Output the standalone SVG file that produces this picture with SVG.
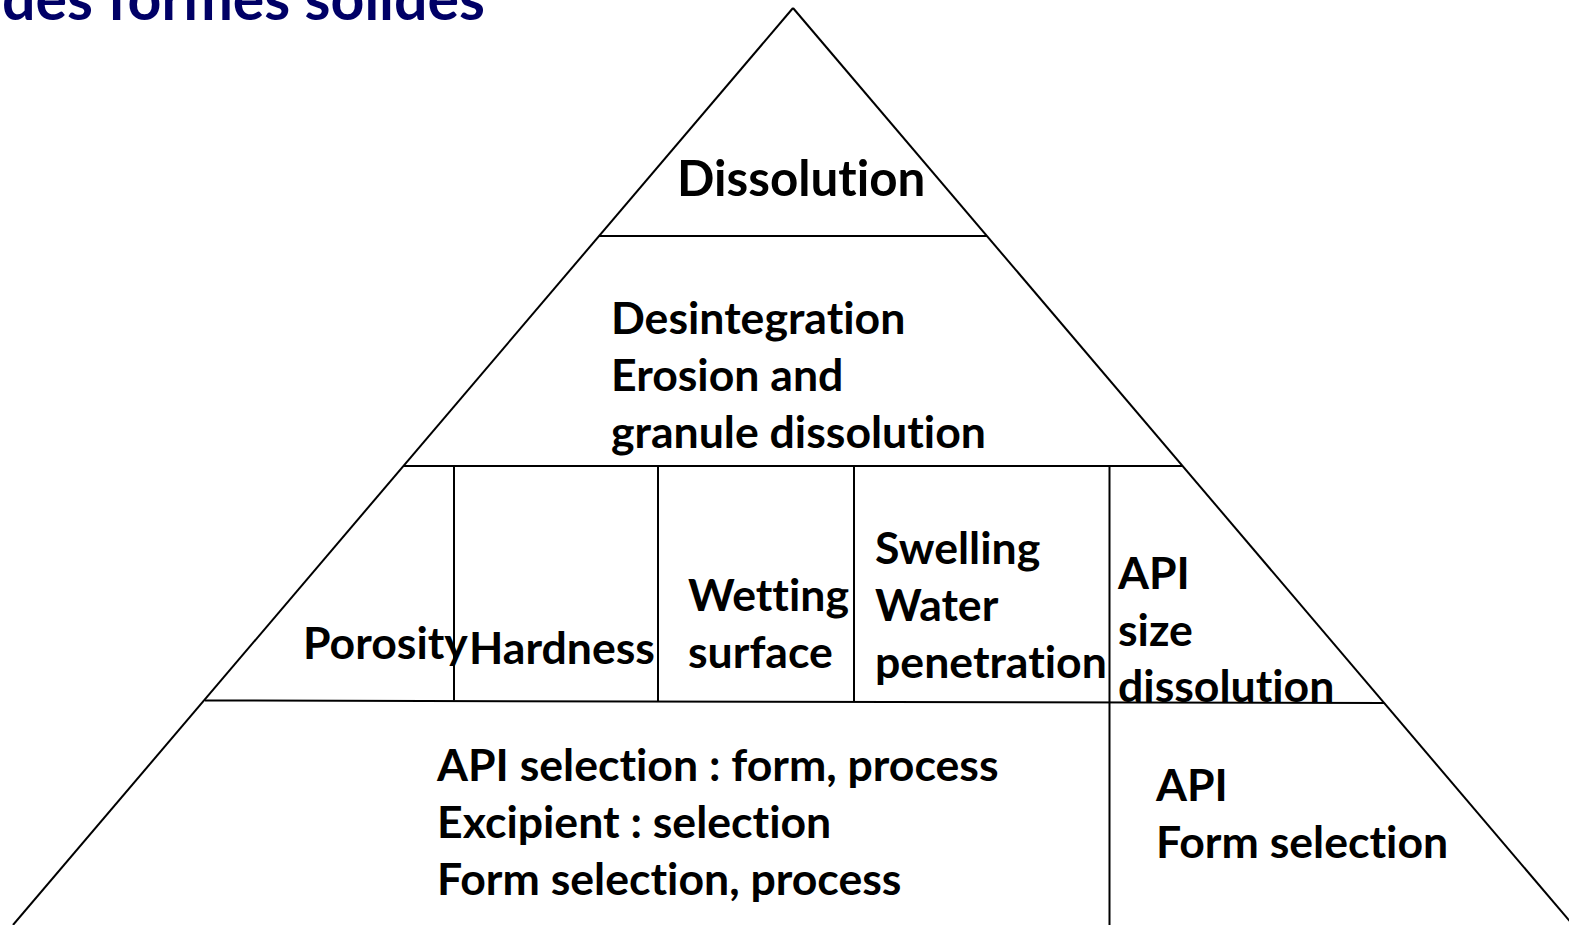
<svg xmlns="http://www.w3.org/2000/svg" width="1569" height="925" viewBox="0 0 1569 925">
<style>
.ln{stroke:#000;stroke-width:2;fill:none}
.t{font-family:Lato,"Open Sans","Liberation Sans",sans-serif;font-weight:bold;font-size:44.6px;fill:#000;font-variant-ligatures:none}
.big{font-size:49.3px}
.title{font-family:Lato,"Open Sans","Liberation Sans",sans-serif;font-weight:bold;font-size:59px;fill:#000066;font-variant-ligatures:none}
</style>
<rect width="1569" height="925" fill="#fff"/>
<text class="title" x="485" y="20" text-anchor="end">des formes solides</text>
<g id="connectors">
<line class="ln" x1="793" y1="8" x2="13" y2="925"/>
<line class="ln" x1="793" y1="8" x2="1573" y2="925"/>
<line class="ln" x1="599" y1="236" x2="987" y2="236"/>
<line class="ln" x1="403" y1="466" x2="1182" y2="466"/>
<line class="ln" x1="205" y1="700.5" x2="1384" y2="703"/>
<line class="ln" x1="454" y1="466" x2="454" y2="700.5"/>
<line class="ln" x1="658" y1="466" x2="658" y2="701"/>
<line class="ln" x1="854" y1="466" x2="854" y2="701.5"/>
<line class="ln" x1="1109.5" y1="466" x2="1109.5" y2="925"/>
</g>
<g id="dissolution"><text class="t big" x="677" y="196">Dissolution</text></g>
<g id="desintegration">
<text class="t" x="611" y="334">Desintegration</text>
<text class="t" x="611" y="391">Erosion and</text>
<text class="t" x="611" y="448">granule dissolution</text>
</g>
<g id="porosity"><text class="t" x="303" y="659">Porosity</text></g>
<g id="hardness"><text class="t" x="469" y="664">Hardness</text></g>
<g id="wetting">
<text class="t" x="688" y="611">Wetting</text>
<text class="t" x="688" y="668">surface</text>
</g>
<g id="swelling">
<text class="t" x="875" y="564">Swelling</text>
<text class="t" x="875" y="621">Water</text>
<text class="t" x="875" y="678">penetration</text>
</g>
<g id="api-size">
<text class="t" x="1118" y="589">API</text>
<text class="t" x="1118" y="646">size</text>
<text class="t" x="1118" y="702">dissolution</text>
</g>
<g id="api-selection">
<text class="t" x="437" y="781">API selection : form, process</text>
<text class="t" x="437" y="838">Excipient : selection</text>
<text class="t" x="437" y="895">Form selection, process</text>
</g>
<g id="api-form">
<text class="t" x="1156" y="801">API</text>
<text class="t" x="1156" y="858">Form selection</text>
</g>
</svg>
